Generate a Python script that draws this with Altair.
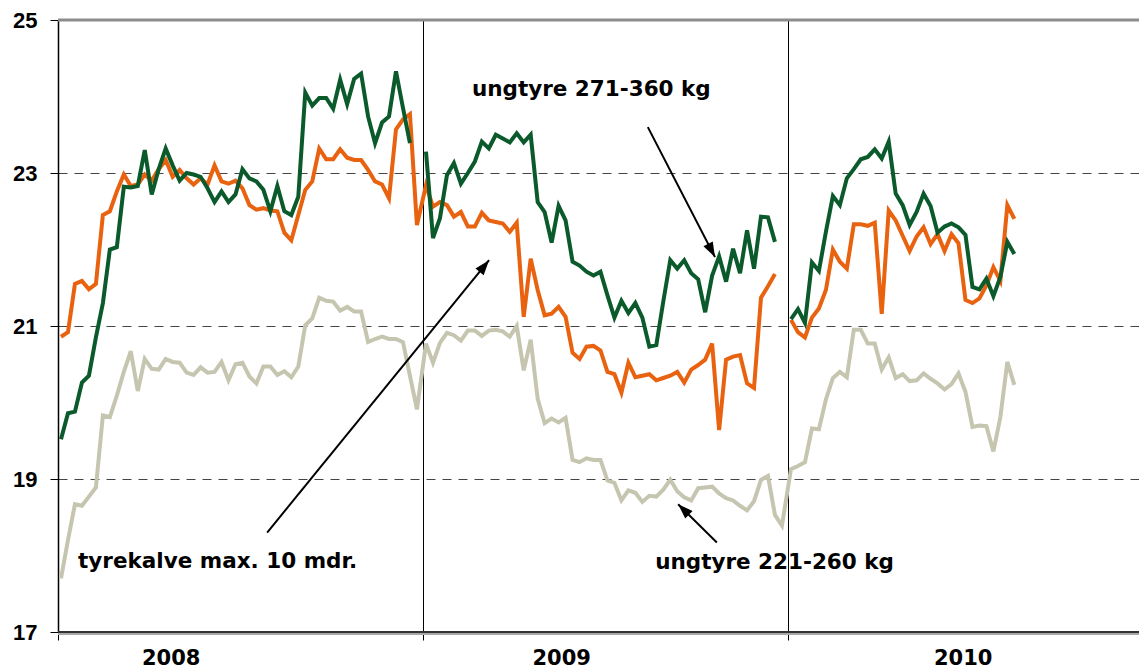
import altair as alt
import pandas as pd

# ---------------- data (weekly prices) ----------------
green_2008 = [19.52, 19.86, 19.88, 20.26, 20.35, 20.85, 21.30, 22.00, 22.03, 22.82,
              22.81, 22.83, 23.30, 22.72, 23.05, 23.32, 23.10, 22.90, 23.00, 22.98,
              22.95, 22.80, 22.62, 22.76, 22.62, 22.72, 23.05, 22.93, 22.89, 22.78,
              22.50, 22.83, 22.50, 22.45, 22.69, 24.05, 23.88, 23.98, 23.98, 23.84,
              24.22, 23.90, 24.23, 24.30, 23.74, 23.39, 23.66, 23.74, 24.33, 23.85,
              23.39]
green_2009 = [23.28, 22.15, 22.41, 22.97, 23.13, 22.86, 23.00, 23.15, 23.41, 23.32,
              23.50, 23.45, 23.40, 23.52, 23.40, 23.50, 22.62, 22.49, 22.09, 22.57,
              22.38, 21.84, 21.79, 21.71, 21.66, 21.71, 21.40, 21.11, 21.33, 21.17,
              21.30, 21.11, 20.73, 20.75, 21.32, 21.86, 21.75, 21.86, 21.69, 21.61,
              21.18, 21.66, 21.91, 21.58, 22.01, 21.69, 22.25, 21.75, 22.43, 22.42,
              22.10]
green_2010 = [21.09, 21.22, 21.04, 21.83, 21.72, 22.23, 22.70, 22.58, 22.93, 23.05,
              23.18, 23.21, 23.31, 23.19, 23.41, 22.73, 22.58, 22.32, 22.49, 22.73,
              22.57, 22.22, 22.30, 22.34, 22.29, 22.19, 21.51, 21.48, 21.62, 21.39,
              21.64, 22.10, 21.94]

orange_2008 = [20.86, 20.92, 21.55, 21.59, 21.48, 21.55, 22.45, 22.50, 22.76, 22.98,
               22.83, 22.85, 22.98, 22.90, 23.05, 23.17, 22.95, 23.04, 22.93, 22.85,
               22.93, 22.85, 23.10, 22.89, 22.86, 22.90, 22.80, 22.58, 22.52, 22.54,
               22.51, 22.50, 22.22, 22.12, 22.45, 22.78, 22.89, 23.32, 23.18, 23.18,
               23.31, 23.20, 23.17, 23.17, 23.04, 22.89, 22.85, 22.67, 23.57, 23.70,
               23.77, 22.32]
orange_2009 = [22.84, 22.56, 22.62, 22.58, 22.43, 22.49, 22.30, 22.30, 22.48, 22.38,
               22.36, 22.34, 22.23, 22.35, 21.12, 21.88, 21.47, 21.14, 21.16, 21.25,
               21.12, 20.65, 20.57, 20.73, 20.74, 20.68, 20.40, 20.37, 20.13, 20.52,
               20.33, 20.35, 20.37, 20.29, 20.32, 20.35, 20.40, 20.26, 20.43, 20.49,
               20.56, 20.77, 19.64, 20.56, 20.60, 20.62, 20.25, 20.19, 21.37, 21.52,
               21.68]
orange_2010 = [21.08, 20.92, 20.85, 21.11, 21.23, 21.47, 22.00, 21.84, 21.75, 22.33,
               22.33, 22.31, 22.35, 21.16, 22.51, 22.38, 22.18, 21.98, 22.17, 22.29,
               22.07, 22.20, 21.98, 22.20, 22.08, 21.34, 21.30, 21.36, 21.53, 21.77,
               21.59, 22.58, 22.40]

beige_2008 = [17.70, 18.20, 18.67, 18.65, 18.77, 18.89, 19.83, 19.81, 20.09, 20.40,
              20.67, 20.15, 20.57, 20.44, 20.43, 20.57, 20.53, 20.52, 20.39, 20.36,
              20.46, 20.39, 20.40, 20.53, 20.29, 20.50, 20.52, 20.34, 20.25, 20.47,
              20.47, 20.36, 20.41, 20.33, 20.47, 21.01, 21.10, 21.37, 21.33, 21.32,
              21.20, 21.25, 21.19, 21.19, 20.79, 20.83, 20.86, 20.83, 20.83, 20.79,
              20.35, 19.91]
beige_2009 = [20.77, 20.52, 20.78, 20.91, 20.88, 20.81, 20.94, 20.94, 20.87, 20.94,
              20.95, 20.93, 20.86, 21.00, 20.42, 20.82, 20.05, 19.73, 19.79, 19.74,
              19.80, 19.25, 19.22, 19.27, 19.25, 19.25, 18.98, 18.95, 18.72, 18.85,
              18.82, 18.70, 18.78, 18.77, 18.86, 18.99, 18.84, 18.76, 18.72, 18.88,
              18.89, 18.90, 18.81, 18.75, 18.72, 18.65, 18.59, 18.71, 18.99, 19.04,
              18.53, 18.39]
beige_2010 = [19.13, 19.17, 19.22, 19.66, 19.65, 20.04, 20.32, 20.40, 20.33, 20.95,
              20.95, 20.77, 20.77, 20.43, 20.59, 20.32, 20.37, 20.28, 20.29, 20.38,
              20.31, 20.25, 20.17, 20.24, 20.38, 20.14, 19.68, 19.70, 19.69, 19.36,
              19.81, 20.53, 20.23]

series_keys = ["beige", "orange", "green"]          # drawing order
series_colors = ["#c6c6b0", "#e8620f", "#0b5a2c"]
years = [2008, 2009, 2010]
year_label_pos = [2008.31, 2009.38, 2010.48]

y_ticks = [17, 19, 21, 23, 25]

ann_labels = ["ungtyre 271-360 kg", "tyrekalve max. 10 mdr.", "ungtyre 221-260 kg"]
ann_x = [2009.134, 2008.055, 2009.636]
ann_y = [24.09, 17.91, 17.90]

arrow_x1 = [2009.616, 2008.573, 2009.805]
arrow_y1 = [23.60, 18.30, 18.17]
arrow_x2 = [2009.800, 2009.181, 2009.699]
arrow_y2 = [21.90, 21.86, 18.67]
arrow_angle = [152.7, 39.2, 314.2]

# ---------------- build table ----------------
per_series = {
    "green": [green_2008, green_2009, green_2010],
    "orange": [orange_2008, orange_2009, orange_2010],
    "beige": [beige_2008, beige_2009, beige_2010],
}
rows = []
for key, lists in per_series.items():
    for yr, vals in zip(years, lists):
        for i, v in enumerate(vals):
            rows.append({"serie": key, "year": yr, "week": i + 1, "value": v})
df = pd.DataFrame(rows)
df["t"] = df["year"] + (df["week"] - 0.57) / 52.3
df = df.sort_values(["serie", "t"]).reset_index(drop=True)
gap = (df.groupby("serie")["t"].diff() * 52.3) > 1.6
df["seg"] = gap.astype(int).groupby(df["serie"]).cumsum().astype(str)

W, H = 1081, 612
xs = alt.Scale(domain=[2008, 2008 + W / 365.0], nice=False, zero=False)
ys = alt.Scale(domain=[17, 25], nice=False, zero=False)

x_axis = alt.Axis(values=years, labels=False, title=None, domain=False,
                  ticks=True, tickSize=8, tickColor="black", tickWidth=1,
                  grid=True, gridColor="black", gridWidth=1)
y_axis = alt.Axis(values=y_ticks, title=None, labelFont="Liberation Sans",
                  labelFontSize=22, labelFontWeight="bold", labelColor="black",
                  labelPadding=13, tickSize=8, tickColor="black", tickWidth=1,
                  domainColor="black", domainWidth=1.5,
                  grid=True, gridColor="#444444", gridWidth=1, gridDash=[9, 7])


def X(field):
    return alt.X(field, type="quantitative", scale=xs, axis=x_axis)


def Y(field):
    return alt.Y(field, type="quantitative", scale=ys, axis=y_axis)


layers = []

# frame lines (top gray border, bottom axis line with shadow)
top_df = pd.DataFrame({"v": [25]})
bot_df = pd.DataFrame({"v": [17]})
layers.append(alt.Chart(top_df).mark_rule(color="#8c8c8c", strokeWidth=3).encode(y=Y("v")))
layers.append(alt.Chart(bot_df).mark_rule(color="#a8a8a8", strokeWidth=2, yOffset=2).encode(y=Y("v")))
layers.append(alt.Chart(bot_df).mark_rule(color="#333333", strokeWidth=2).encode(y=Y("v")))

for key, col in zip(series_keys, series_colors):
    layers.append(
        alt.Chart(df[df["serie"] == key]).mark_line(color=col, strokeWidth=4)
        .encode(x=X("t"), y=Y("value"), detail="seg:N", order="t:Q")
    )

arrows = pd.DataFrame({"x1": arrow_x1, "y1": arrow_y1, "x2": arrow_x2,
                       "y2": arrow_y2, "ang": arrow_angle})
layers.append(
    alt.Chart(arrows).mark_rule(color="black", strokeWidth=2)
    .encode(x=X("x1"), y=Y("y1"), x2="x2", y2="y2")
)
layers.append(
    alt.Chart(arrows).mark_point(shape="M0,0L-0.35,1L0.35,1Z", filled=True,
                                 color="black", size=900, opacity=1, strokeWidth=0)
    .encode(x=X("x2"), y=Y("y2"), angle=alt.Angle("ang:Q", scale=None))
)

ann = pd.DataFrame({"x": ann_x, "y": ann_y, "label": ann_labels})
layers.append(
    alt.Chart(ann).mark_text(align="left", baseline="middle", font="DejaVu Sans",
                             fontWeight="bold", fontSize=21.5, color="black")
    .encode(x=X("x"), y=Y("y"), text="label:N")
)

yl = pd.DataFrame({"pos": year_label_pos, "label": [str(y) for y in years]})
layers.append(
    alt.Chart(yl).mark_text(align="center", baseline="middle", font="DejaVu Sans",
                            fontWeight="bold", fontSize=21, color="black")
    .encode(x=X("pos"), y=alt.value(H + 27), text="label:N")
)

chart = alt.layer(*layers).properties(
    width=W, height=H,
    padding={"left": 50, "top": 12, "right": 0, "bottom": 40},
    autosize=alt.AutoSizeParams(type="none"),
    background="white",
).configure_view(stroke=None)

chart.save("out.html", embed_options={"renderer": "svg", "actions": False})
